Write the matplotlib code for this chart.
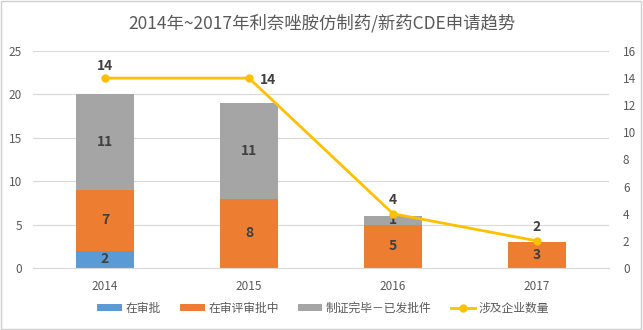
import matplotlib.pyplot as plt
from matplotlib.patches import Rectangle

plt.rcParams['font.family'] = ['Noto Sans CJK SC', 'DejaVu Sans']

# 数据
years = ["2014", "2015", "2016", "2017"]
zai_shen_pi = [2, 0, 0, 0]          # 在审批
shen_ping_zhong = [7, 8, 5, 3]      # 在审评审批中
yi_fa_pi_jian = [11, 11, 1, 0]      # 制证完毕－已发批件
qi_ye_shu = [14, 14, 4, 2]          # 涉及企业数量

BLUE = "#5B9BD5"
ORANGE = "#ED7D31"
GRAY = "#A5A5A5"
YELLOW = "#FFC000"
GRID = "#D9D9D9"
TICK = "#595959"

fig = plt.figure(figsize=(6.43, 3.30), dpi=100)
ax = fig.add_axes([33 / 643, 62 / 330, 576 / 643, 217 / 330])
ax2 = ax.twinx()

x = list(range(len(years)))
w = 0.4
b1 = ax.bar(x, zai_shen_pi, w, color=BLUE, label="在审批", zorder=2)
b2 = ax.bar(x, shen_ping_zhong, w, bottom=zai_shen_pi, color=ORANGE,
            label="在审评审批中", zorder=2)
bottom3 = [a + b for a, b in zip(zai_shen_pi, shen_ping_zhong)]
b3 = ax.bar(x, yi_fa_pi_jian, w, bottom=bottom3, color=GRAY,
            label="制证完毕－已发批件", zorder=2)

# 柱内数值标签
for series, bottoms in ((zai_shen_pi, [0] * 4), (shen_ping_zhong, zai_shen_pi),
                        (yi_fa_pi_jian, bottom3)):
    for xi, v, b in zip(x, series, bottoms):
        if v:
            ax.text(xi, b + v / 2, str(v), ha="center", va="center",
                    fontsize=10, fontweight="bold", color="#404040", zorder=3)

ax.set_xlim(-0.5, 3.5)
ax.set_ylim(0, 25)
ax.set_yticks(range(0, 26, 5))
ax.set_xticks(x)
ax.set_xticklabels(years)
ax.yaxis.grid(True, color=GRID, linewidth=0.8)
ax.set_axisbelow(True)
for s in ax.spines.values():
    s.set_visible(False)
for s in ax2.spines.values():
    s.set_visible(False)
ax.spines["bottom"].set_visible(True)
ax.spines["bottom"].set_color(GRID)
ax.tick_params(length=0, labelsize=8.5, labelcolor=TICK, pad=8)
ax.tick_params(axis="x", pad=9)

# 企业数量折线（次坐标轴）
l1, = ax2.plot(x, qi_ye_shu, color=YELLOW, linewidth=2, marker="o",
               markersize=5, label="涉及企业数量", zorder=4)
ax2.set_ylim(0, 16)
ax2.set_yticks(range(0, 17, 2))
ax2.tick_params(length=0, labelsize=8.5, labelcolor=TICK, pad=10)

offsets = [(0, 9), (14, -1), (0, 10), (0, 10)]
for xi, v, (dx, dy) in zip(x, qi_ye_shu, offsets):
    ax2.annotate(str(v), (xi, v), xytext=(dx, dy), textcoords="offset points",
                 ha="center", va="center", fontsize=10, fontweight="bold",
                 color="#404040")

fig.suptitle("2014年~2017年利奈唑胺仿制药/新药CDE申请趋势", x=0.5, y=0.958,
             fontsize=12.5, color="#595959")

fig.legend(handles=[b1, b2, b3, l1], loc="center", bbox_to_anchor=(0.503, 0.066),
           ncol=4, frameon=False, fontsize=8.5, labelcolor=TICK,
           handlelength=2.1, handleheight=0.6, columnspacing=1.6,
           handletextpad=0.3)

fig.patches.append(Rectangle((0.002, 0.003), 0.995, 0.993, transform=fig.transFigure,
                             fill=False, edgecolor="#D0D0D0", linewidth=1))

fig.savefig("out.png", dpi=100)
